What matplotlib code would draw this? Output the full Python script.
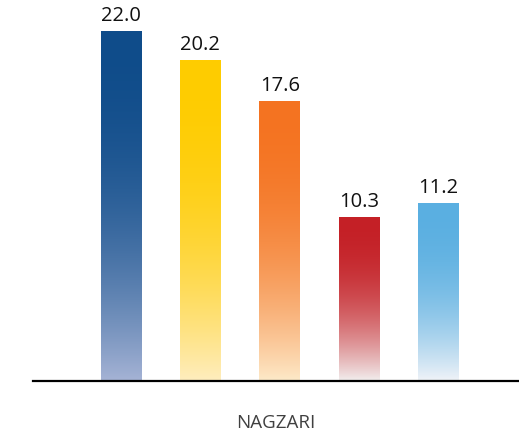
import numpy as np
import matplotlib
matplotlib.use("Agg")
import matplotlib.pyplot as plt
from matplotlib.colors import to_rgb

categories = ["A", "B", "C", "D", "E"]
values = [22.0, 20.2, 17.6, 10.3, 11.2]
top_colors = ["#0F4C8A", "#FFCC00", "#F47321", "#C42026", "#5AAFE1"]
bottom_colors = ["#A5B3D5", "#FEEDBE", "#FDE9C8", "#F2EEEE", "#F0F3F8"]
xlabel = "NAGZARI"

W, H = 519, 433
fig = plt.figure(figsize=(W / 100, H / 100), dpi=100)
ax = fig.add_axes([33 / W, (H - 381) / H, (W - 33) / W, 381 / H])

x = np.arange(len(values))
width = 0.516
bars = ax.bar(x, values, width=width, color="none", edgecolor="none")

n = 256
for b, tc, bc in zip(bars, top_colors, bottom_colors):
    t = np.linspace(0, 1, n)  # 0 = top, 1 = bottom
    s = t ** 2.2
    tcv = np.array(to_rgb(tc))
    bcv = np.array(to_rgb(bc))
    cols = tcv[None, :] * (1 - s[:, None]) + bcv[None, :] * s[:, None]
    img = cols[:, None, :]
    x0 = b.get_x()
    ax.imshow(img, extent=[x0, x0 + b.get_width(), 0, b.get_height()],
              aspect="auto", interpolation="bilinear", origin="upper", zorder=2)

for xi, v in zip(x, values):
    ax.annotate(f"{v:.1f}", (xi, v), xytext=(0, 4), textcoords="offset points",
                ha="center", va="bottom", fontsize=14.5, family="Open Sans",
                color="#111111")

ax.set_xlim(-1.108, 5.012)
ax.set_ylim(0, 24)
for sp in ["top", "right", "left"]:
    ax.spines[sp].set_visible(False)
ax.spines["bottom"].set_linewidth(1.6)
ax.spines["bottom"].set_color("#000000")
ax.spines["bottom"].set_zorder(3)
ax.set_xticks([])
ax.set_yticks([])
ax.set_xlabel(xlabel, fontsize=13.5, family="Open Sans", color="#404040", labelpad=24)

fig.savefig("out.png", dpi=100)
